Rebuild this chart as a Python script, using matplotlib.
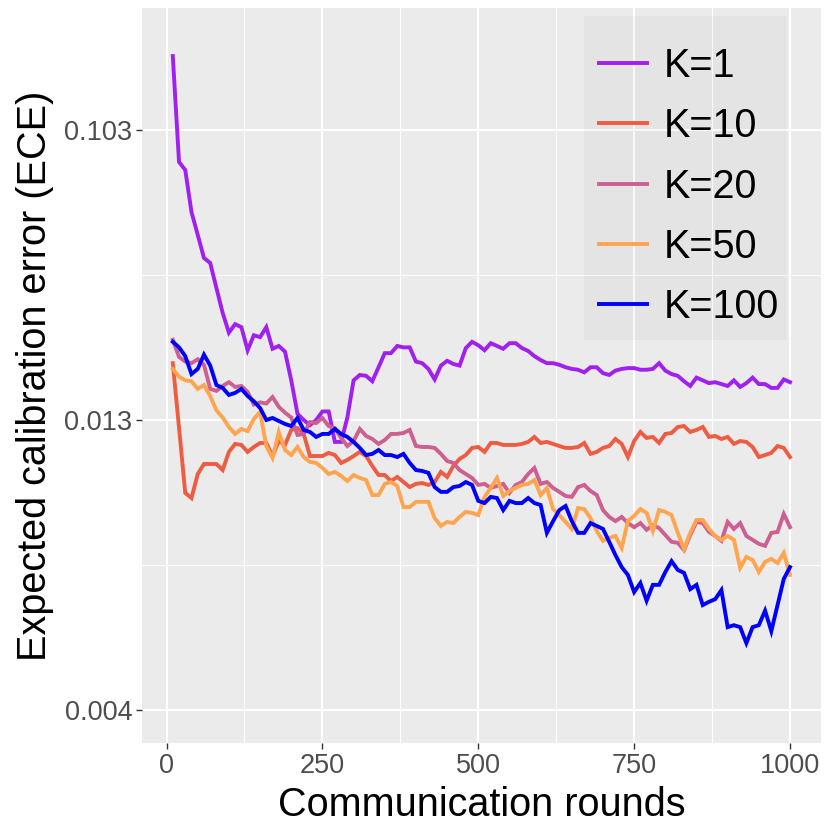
import numpy as np
import matplotlib
matplotlib.use('Agg')
import matplotlib.pyplot as plt
from matplotlib.patches import Rectangle

plt.rcParams['font.family'] = ['Liberation Sans', 'DejaVu Sans']

# Datos (ECE por ronda de comunicación)
rondas = list(range(10, 1001, 10))

ece_k1 = [0.1829, 0.0806, 0.0758, 0.0551, 0.0465, 0.0392, 0.0378, 0.0315, 0.0264, 0.0230,
          0.0244, 0.0239, 0.0204, 0.0226, 0.0223, 0.0239, 0.0206, 0.0210, 0.0202, 0.0167,
          0.0135, 0.0130, 0.0126, 0.0130, 0.0137, 0.0137, 0.0114, 0.0114, 0.0132, 0.0167,
          0.0173, 0.0172, 0.0166, 0.0182, 0.0200, 0.0200, 0.0210, 0.0208, 0.0208, 0.0189,
          0.0187, 0.0180, 0.0168, 0.0184, 0.0190, 0.0186, 0.0184, 0.0207, 0.0216, 0.0211,
          0.0204, 0.0214, 0.0210, 0.0206, 0.0214, 0.0214, 0.0207, 0.0203, 0.0196, 0.0191,
          0.0187, 0.0187, 0.0185, 0.0182, 0.0180, 0.0179, 0.0176, 0.0182, 0.0182, 0.0175,
          0.0173, 0.0178, 0.0180, 0.0181, 0.0181, 0.0179, 0.0179, 0.0180, 0.0187, 0.0178,
          0.0174, 0.0172, 0.0166, 0.0161, 0.0170, 0.0167, 0.0164, 0.0165, 0.0163, 0.0161,
          0.0167, 0.0160, 0.0164, 0.0170, 0.0163, 0.0163, 0.0159, 0.0159, 0.0168, 0.0165]

ece_k10 = [0.0187, 0.0124, 0.00860, 0.00838, 0.00951, 0.01005, 0.01005, 0.01005, 0.00972, 0.01076,
           0.01127, 0.01120, 0.01076, 0.01107, 0.01133, 0.01133, 0.01051, 0.01146, 0.01120, 0.01224,
           0.01238, 0.01195, 0.01051, 0.01051, 0.01051, 0.01070, 0.01057, 0.01011, 0.01028, 0.01051,
           0.01076, 0.01051, 0.00994, 0.00946, 0.00946, 0.00916, 0.00936, 0.00911, 0.00887, 0.00902,
           0.00906, 0.00897, 0.00911, 0.00962, 0.00936, 0.00994, 0.01034, 0.01057, 0.01101, 0.01107,
           0.01076, 0.01133, 0.01133, 0.01120, 0.01120, 0.01120, 0.01127, 0.01140, 0.01174, 0.01133,
           0.01140, 0.01127, 0.01113, 0.01101, 0.01101, 0.01107, 0.01133, 0.01064, 0.01076, 0.01101,
           0.01113, 0.01160, 0.01127, 0.01045, 0.01146, 0.01209, 0.01167, 0.01174, 0.01133, 0.01195,
           0.01202, 0.01246, 0.01253, 0.01209, 0.01224, 0.01246, 0.01174, 0.01181, 0.01160, 0.01174,
           0.01127, 0.01146, 0.01140, 0.01107, 0.01045, 0.01057, 0.01070, 0.01113, 0.01101, 0.01045]

ece_k20 = [0.0219, 0.0195, 0.0189, 0.0187, 0.0192, 0.0185, 0.0158, 0.0156, 0.0161, 0.0165,
           0.0160, 0.0161, 0.0155, 0.0143, 0.0145, 0.0144, 0.0150, 0.0141, 0.0136, 0.0132,
           0.01188, 0.01195, 0.01284, 0.01276, 0.01316, 0.01253, 0.01238, 0.01167, 0.01113, 0.01146,
           0.01231, 0.01181, 0.01160, 0.01127, 0.01153, 0.01195, 0.01195, 0.01202, 0.01224, 0.01113,
           0.01107, 0.01107, 0.01101, 0.01064, 0.01022, 0.01011, 0.00972, 0.00951, 0.00931, 0.00897,
           0.00902, 0.00883, 0.00892, 0.00902, 0.00860, 0.00897, 0.00911, 0.00951, 0.00983, 0.00902,
           0.00911, 0.00883, 0.00865, 0.00847, 0.00843, 0.00887, 0.00897, 0.00869, 0.00851, 0.00789,
           0.00763, 0.00748, 0.00763, 0.00741, 0.00727, 0.00741, 0.00718, 0.00734, 0.00724, 0.00701,
           0.00680, 0.00677, 0.00656, 0.00701, 0.00745, 0.00741, 0.00711, 0.00698, 0.00683, 0.00745,
           0.00721, 0.00741, 0.00698, 0.00686, 0.00674, 0.00668, 0.00708, 0.00711, 0.00774, 0.00727]

ece_k50 = [0.0180, 0.0171, 0.0167, 0.0166, 0.0158, 0.0162, 0.0151, 0.0138, 0.0132, 0.01246,
           0.01195, 0.01231, 0.01216, 0.01308, 0.01366, 0.01113, 0.01040, 0.01209, 0.01088, 0.01057,
           0.01107, 0.01045, 0.01017, 0.01011, 0.00983, 0.00951, 0.00962, 0.00941, 0.00916, 0.00946,
           0.00931, 0.00921, 0.00851, 0.00851, 0.00902, 0.00911, 0.00892, 0.00801, 0.00801, 0.00822,
           0.00822, 0.00822, 0.00759, 0.00731, 0.00745, 0.00741, 0.00763, 0.00782, 0.00778, 0.00770,
           0.00843, 0.00883, 0.00931, 0.00847, 0.00869, 0.00883, 0.00897, 0.00902, 0.00921, 0.00851,
           0.00883, 0.00793, 0.00770, 0.00745, 0.00721, 0.00797, 0.00793, 0.00759, 0.00714, 0.00683,
           0.00692, 0.00698, 0.00662, 0.00748, 0.00767, 0.00793, 0.00778, 0.00714, 0.00789, 0.00782,
           0.00770, 0.00708, 0.00659, 0.00708, 0.00752, 0.00752, 0.00721, 0.00698, 0.00686, 0.00698,
           0.00686, 0.00609, 0.00637, 0.00629, 0.00599, 0.00624, 0.00632, 0.00621, 0.00648, 0.00592]

ece_k100 = [0.0216, 0.0208, 0.0196, 0.0174, 0.0180, 0.0198, 0.0184, 0.0162, 0.0159, 0.0152,
            0.0154, 0.0158, 0.0151, 0.0146, 0.0140, 0.0130, 0.01316, 0.01292, 0.01269, 0.01253,
            0.01316, 0.01224, 0.01209, 0.01174, 0.01195, 0.01195, 0.01231, 0.01195, 0.01174, 0.01140,
            0.01101, 0.01057, 0.01064, 0.01088, 0.01057, 0.01057, 0.01045, 0.01064, 0.01011, 0.00972,
            0.00967, 0.00957, 0.00887, 0.00865, 0.00865, 0.00887, 0.00892, 0.00911, 0.00897, 0.00826,
            0.00817, 0.00843, 0.00838, 0.00789, 0.00826, 0.00817, 0.00817, 0.00838, 0.00817, 0.00809,
            0.00708, 0.00748, 0.00789, 0.00805, 0.00748, 0.00708, 0.00708, 0.00741, 0.00731, 0.00721,
            0.00680, 0.00642, 0.00611, 0.00592, 0.00555, 0.00574, 0.00538, 0.00570, 0.00570, 0.00599,
            0.00626, 0.00604, 0.00597, 0.00561, 0.00570, 0.00530, 0.00536, 0.00541, 0.00559, 0.00493,
            0.00496, 0.00493, 0.00470, 0.00493, 0.00496, 0.00520, 0.00487, 0.00530, 0.00583, 0.00611]

etiquetas = ['K=1', 'K=10', 'K=20', 'K=50', 'K=100']
series = [ece_k1, ece_k10, ece_k20, ece_k50, ece_k100]
colores = ['#A020F0', '#EE5C42', '#CD6090', '#FFA54F', '#0000FF']

y_ticks = [0.004, 0.013, 0.103]
x_ticks = [0, 250, 500, 750, 1000]

# Escala del eje y: log10(ece - 0.003)
desplaz = 0.003

def directa(y):
    return np.log10(np.clip(np.asarray(y, dtype=float) - desplaz, 1e-12, None))

def inversa(v):
    return 10 ** np.asarray(v, dtype=float) + desplaz

fig = plt.figure(figsize=(8.3, 8.3), dpi=100)
ax = fig.add_axes([0.171, 0.1048, 0.818, 0.8855])
ax.set_facecolor('#EBEBEB')

for valores, etiqueta, color in zip(series, etiquetas, colores):
    ax.plot(rondas, valores, color=color, lw=2.8, label=etiqueta, solid_joinstyle='miter')

ax.set_yscale('function', functions=(directa, inversa))
ax.set_ylim(0.003769, 0.2664)
ax.set_xlim(-39.5, 1049.5)

ax.set_yticks(y_ticks)
ax.set_yticklabels(['0.004', '0.013', '0.103'])
ax.set_yticks([desplaz + 10 ** -2.5, desplaz + 10 ** -1.5], minor=True)
ax.set_xticks(x_ticks)
ax.set_xticks([125, 375, 625, 875], minor=True)

ax.grid(which='major', color='white', lw=1.5)
ax.grid(which='minor', color='white', lw=0.75)
ax.set_axisbelow(True)
for s in ax.spines.values():
    s.set_visible(False)

ax.tick_params(which='major', length=4, width=1, color='#333333',
               labelsize=19.5, labelcolor='#4D4D4D', pad=3)
ax.tick_params(which='minor', length=0)

ax.set_xlabel('Communication rounds', fontsize=28.5, labelpad=5)
ax.set_ylabel('Expected calibration error (ECE)', fontsize=28.5, labelpad=7)

# Fondo semitransparente de la leyenda (deja ver la rejilla)
ax.add_patch(Rectangle((0.651, 0.548), 0.299, 0.441, transform=ax.transAxes,
                       facecolor='black', alpha=0.027, edgecolor='none', zorder=3))

leg = ax.legend(loc='upper left', bbox_to_anchor=(0.6436, 0.974), borderaxespad=0,
                fontsize=28.5, handlelength=1.22, handletextpad=0.42, labelspacing=0.563,
                borderpad=0.5, frameon=False)
for h in leg.get_lines():
    h.set_linewidth(2.8)

fig.savefig('out.png', dpi=100)
